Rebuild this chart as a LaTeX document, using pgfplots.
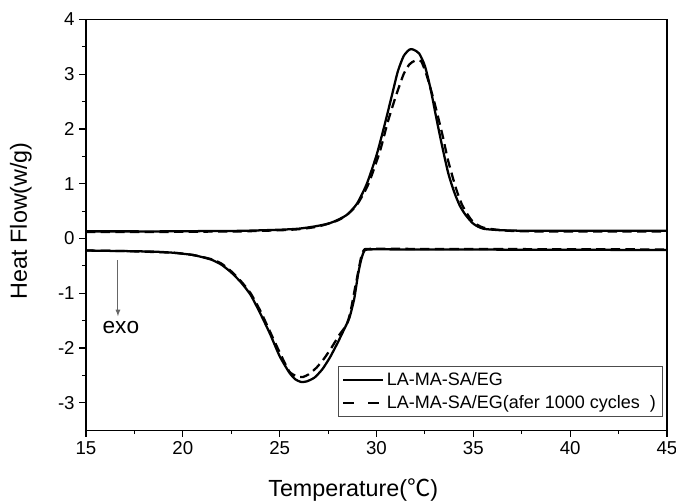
\documentclass[border=0pt]{standalone}
\usepackage{pgfplots}
\pgfplotsset{compat=1.18}
\usepackage{fontspec}
\setmainfont{Liberation Sans}
\newfontfamily\cjk{Noto Sans CJK SC}
\begin{document}
\begin{tikzpicture}
\path[use as bounding box] (-64.5pt,-53.25pt) rectangle (442.5pt,322.6pt);
\begin{axis}[
  scale only axis, width=435.75pt, height=308pt,
  xmin=15, xmax=45, ymin=-3.5, ymax=4,
  xtick={15,20,...,45}, ytick={-3,-2,...,4},
  minor x tick num=1, minor y tick num=1,
  tick align=outside, axis line style={line width=0.8pt},
  major tick length=5pt, minor tick length=3pt,
  every tick/.style={black, line width=0.8pt},
  xtick pos=bottom, ytick pos=left,
  /pgf/number format/assume math mode=true,
  ticklabel style={font=\fontsize{14}{16}\selectfont},
  label style={font=\fontsize{17.5}{20}\selectfont},
  xlabel={Temperature({\cjk ℃})},
  ylabel={Heat Flow(w/g)},
  xlabel style={at={(axis description cs:0.46,-0.145)}, anchor=center},
  ylabel style={at={(axis description cs:-0.112,0.51)}, anchor=center},
  legend style={at={(axis description cs:0.993,0.032)}, anchor=south east,
    font=\fontsize{13.5}{15}\selectfont, draw=black!70,
    inner xsep=3pt, inner ysep=2.5pt, row sep=2pt},
  legend cell align=left,
]
% upper solid
\addplot[black, line width=1.7pt, smooth, tension=0.4,
  legend image code/.code={\draw[black, line width=1.8pt] (0pt,0pt) -- (30pt,0pt);}] coordinates {
(15,0.13)(17,0.13)(19,0.13)(21,0.135)(23,0.14)(25,0.16)(26,0.18)(26.8,0.22)
(27.5,0.27)(28,0.34)(28.5,0.44)(29,0.64)(29.5,1.0)(30,1.52)(30.4,2.05)
(30.8,2.62)(31.1,3.05)(31.4,3.33)(31.7,3.45)(31.9,3.45)(32.2,3.38)(32.5,3.15)
(32.8,2.72)(33.1,2.18)(33.4,1.67)(33.7,1.2)(34.0,0.86)(34.3,0.6)(34.6,0.43)
(35.0,0.27)(35.5,0.18)(36.5,0.15)(38,0.14)(40,0.14)(45,0.14)};
\addlegendentry{LA-MA-SA/EG}
% upper dashed
\addplot[black, line width=1.7pt, dash pattern=on 7pt off 4pt, smooth, tension=0.4,
  legend image code/.code={\draw[black, line width=1.8pt, dash pattern=on 8pt off 11pt] (0pt,0pt) -- (30pt,0pt);}] coordinates {
(15,0.12)(17,0.12)(19,0.12)(21,0.125)(23,0.13)(25,0.15)(26,0.17)(27,0.22)
(28,0.33)(28.5,0.44)(29,0.62)(29.5,0.93)(29.8,1.2)(30.2,1.62)(30.6,2.15)
(31.0,2.6)(31.4,3.0)(31.7,3.18)(32.0,3.25)(32.3,3.24)(32.6,2.97)(33.0,2.47)
(33.4,1.9)(33.7,1.42)(34.1,0.92)(34.4,0.63)(34.7,0.44)(35.0,0.3)(35.5,0.2)
(36.5,0.15)(38,0.13)(45,0.13)};
\addlegendentry{LA-MA-SA/EG(afer 1000 cycles\ \ )}
% lower solid
\addplot[black, line width=1.7pt, smooth, tension=0.35, forget plot] coordinates {
(15,-0.22)(17,-0.23)(18.5,-0.24)(19.5,-0.26)(20.5,-0.3)(21,-0.34)(21.5,-0.39)
(22,-0.48)(22.5,-0.62)(23,-0.8)(23.5,-1.03)(24,-1.37)(24.5,-1.74)(25,-2.15)
(25.5,-2.45)(25.8,-2.57)(26.1,-2.62)(26.4,-2.61)(26.8,-2.54)(27.2,-2.39)
(27.6,-2.17)(28.0,-1.9)(28.3,-1.68)(28.6,-1.45)(28.85,-1.1)(29.05,-0.65)
(29.2,-0.4)(29.35,-0.24)(29.6,-0.2)(32,-0.2)(45,-0.21)};
% lower dashed
\addplot[black, line width=1.7pt, dash pattern=on 7pt off 4pt, smooth, tension=0.35, forget plot] coordinates {
(15,-0.22)(17,-0.23)(19.5,-0.26)(20.5,-0.3)(21.5,-0.38)(22,-0.46)(22.5,-0.6)
(23,-0.78)(23.5,-1.0)(24,-1.32)(24.5,-1.7)(25,-2.08)(25.5,-2.43)(25.9,-2.52)
(26.2,-2.53)(26.5,-2.48)(26.9,-2.36)(27.3,-2.19)(27.7,-1.98)(28.1,-1.75)
(28.45,-1.58)(28.65,-1.35)(28.85,-0.98)(29.05,-0.62)(29.2,-0.35)(29.35,-0.21)
(29.6,-0.19)(32,-0.19)(45,-0.2)};
\draw[->, black!60, line width=0.7pt, >=latex] (axis cs:16.65,-0.4) -- (axis cs:16.65,-1.42);
\node[font=\fontsize{17}{19}\selectfont] at (axis cs:16.8,-1.63) {exo};
\end{axis}
\end{tikzpicture}
\end{document}
